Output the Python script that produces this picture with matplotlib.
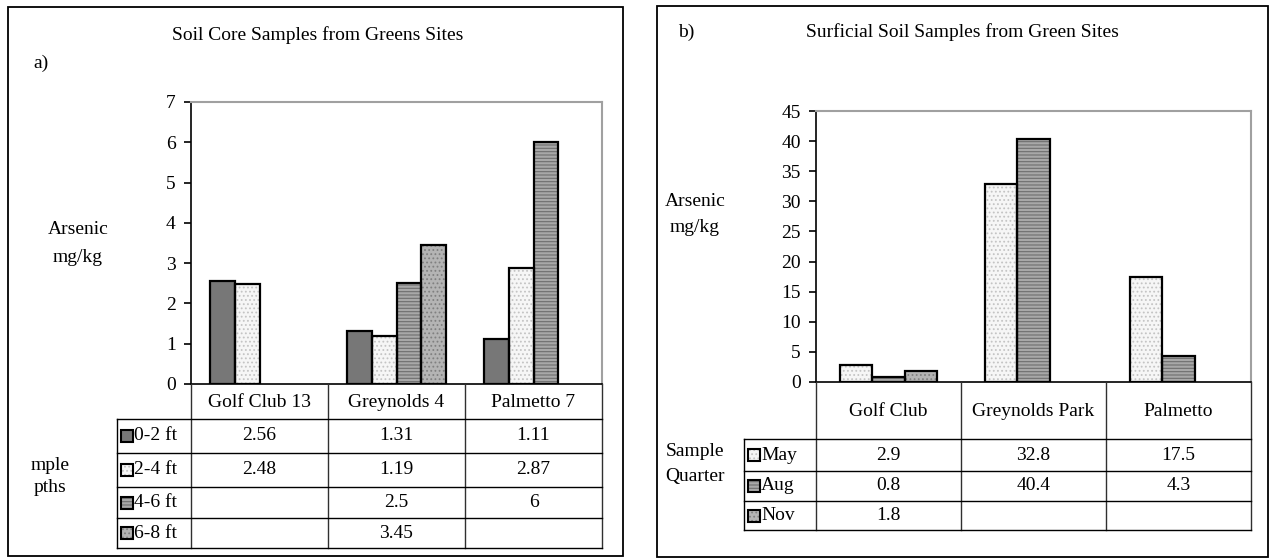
import numpy as np
import matplotlib
matplotlib.use('Agg')
import matplotlib.pyplot as plt
from matplotlib.lines import Line2D
from matplotlib.patches import Rectangle

plt.rcParams['font.family'] = ['Liberation Serif', 'DejaVu Serif']
plt.rcParams['hatch.linewidth'] = 0.8

# ---- data ----
sites_a = ['Golf Club 13', 'Greynolds 4', 'Palmetto 7']
depths = ['0-2 ft', '2-4 ft', '4-6 ft', '6-8 ft']
core_vals = [
    [2.56, 1.31, 1.11],
    [2.48, 1.19, 2.87],
    [np.nan, 2.5, 6],
    [np.nan, 3.45, np.nan],
]

sites_b = ['Golf Club', 'Greynolds Park', 'Palmetto']
quarters = ['May', 'Aug', 'Nov']
surf_vals = [
    [2.9, 32.8, 17.5],
    [0.8, 40.4, 4.3],
    [1.8, np.nan, np.nan],
]

# fill styles: (face, hatch, hatch colour)
styles_a = [('#777777', None, '#777777'),
            ('#f6f6f6', '....', '#c4c4c4'),
            ('#a8a8a8', '-----', '#6e6e6e'),
            ('#b4b4b4', '....', '#808080')]
styles_b = [styles_a[1], styles_a[2], styles_a[3]]

W, H = 1273, 560
fig = plt.figure(figsize=(W / 100, H / 100), dpi=100)
fig.patch.set_facecolor('white')


def fx(x):
    return x / W


def fy(y):
    return 1 - y / H


def hline(x0, x1, y, color='black', lw=1.0):
    fig.add_artist(Line2D([fx(x0), fx(x1)], [fy(y), fy(y)], color=color, lw=lw,
                          transform=fig.transFigure))


def vline(x, y0, y1, color='black', lw=1.0):
    fig.add_artist(Line2D([fx(x), fx(x)], [fy(y0), fy(y1)], color=color, lw=lw,
                          transform=fig.transFigure))


def txt(x, y, s, ha='center', size=14):
    fig.text(fx(x), fy(y), s, ha=ha, va='center', fontsize=size)


def box(x0, y0, x1, y1, lw=1.0):
    fig.add_artist(Rectangle((fx(x0), fy(y1)), fx(x1) - fx(x0), fy(y0) - fy(y1),
                             fill=False, edgecolor='black', lw=lw,
                             transform=fig.transFigure))


def bar_panel(left, top, right, bottom, cats, series, styles, width, ymax, ystep):
    ax = fig.add_axes([fx(left), fy(bottom), fx(right) - fx(left), fy(top) - fy(bottom)])
    n = len(series)
    x = np.arange(len(cats))
    for k, vals in enumerate(series):
        face, hatch, hc = styles[k]
        off = (k - (n - 1) / 2) * width
        v = np.array(vals, dtype=float)
        m = ~np.isnan(v)
        ax.bar(x[m] + off, v[m], width, color=face, hatch=hatch, edgecolor=hc,
               linewidth=0, zorder=2)
        ax.bar(x[m] + off, v[m], width, fill=False, edgecolor='black',
               linewidth=1.6, zorder=3)
    ax.set_xlim(-0.5, len(cats) - 0.5)
    ax.set_ylim(0, ymax)
    ax.set_yticks(np.arange(0, ymax + 0.01, ystep))
    ax.set_xticks([])
    ax.tick_params(axis='y', direction='out', length=5, width=1.2, pad=6, labelsize=14)
    for s in ['top', 'right']:
        ax.spines[s].set_color('#a0a0a0')
        ax.spines[s].set_linewidth(1.5)
    for s in ['left', 'bottom']:
        ax.spines[s].set_color('black')
        ax.spines[s].set_linewidth(1.2)
    return ax


def data_table(left, right, legx, top, head_bot, row_lines, cats, labels, series, styles, fmt):
    ncol = len(cats)
    cw = (right - left) / ncol
    # vertical lines
    for j in range(ncol + 1):
        vline(left + j * cw, top, row_lines[-1], color='#303030')
    vline(legx, head_bot, row_lines[-1])
    # horizontal lines
    ys = [head_bot] + row_lines
    for y in ys:
        hline(legx, right, y)
    # header
    for j, c in enumerate(cats):
        txt(left + (j + 0.5) * cw, (top + head_bot) / 2 + 1, c)
    # rows
    for i, lab in enumerate(labels):
        yc = (ys[i] + ys[i + 1]) / 2
        face, hatch, hc = styles[i]
        sw = 12
        fig.add_artist(Rectangle((fx(legx + 4), fy(yc + sw / 2)), fx(sw), sw / H,
                                 facecolor=face, hatch=hatch, edgecolor=hc, lw=0,
                                 transform=fig.transFigure))
        box(legx + 4, yc - sw / 2, legx + 4 + sw, yc + sw / 2, lw=1.5)
        txt(legx + 17, yc, lab, ha='left')
        for j in range(ncol):
            v = series[i][j]
            if not np.isnan(v):
                txt(left + (j + 0.5) * cw, yc, fmt(v))


def fmt(v):
    return ('%g' % v)


# ---- panel a ----
box(8, 7, 623, 556, lw=1.3)
txt(318, 35, 'Soil Core Samples from Greens Sites')
txt(33, 63, 'a)', ha='left')
txt(78, 230, 'Arsenic')
txt(78, 258, 'mg/kg')
txt(50, 465, 'mple')
txt(50, 488, 'pths')
bar_panel(191, 102, 602, 384, sites_a, core_vals, styles_a, 0.18, 7, 1)
data_table(191, 602, 117, 384, 419, [453, 487, 518, 548], sites_a, depths,
           core_vals, styles_a, fmt)

# ---- panel b ----
box(657, 6, 1268, 557, lw=1.3)
txt(962, 32, 'Surficial Soil Samples from Green Sites')
txt(678, 32, 'b)', ha='left')
txt(695, 202, 'Arsenic')
txt(695, 228, 'mg/kg')
txt(695, 452, 'Sample')
txt(695, 477, 'Quarter')
bar_panel(816, 111, 1251, 382, sites_b, surf_vals, styles_b, 0.225, 45, 5)
data_table(816, 1251, 744, 382, 439, [471, 501, 530], sites_b, quarters,
           surf_vals, styles_b, fmt)

fig.savefig('out.png', dpi=100)
